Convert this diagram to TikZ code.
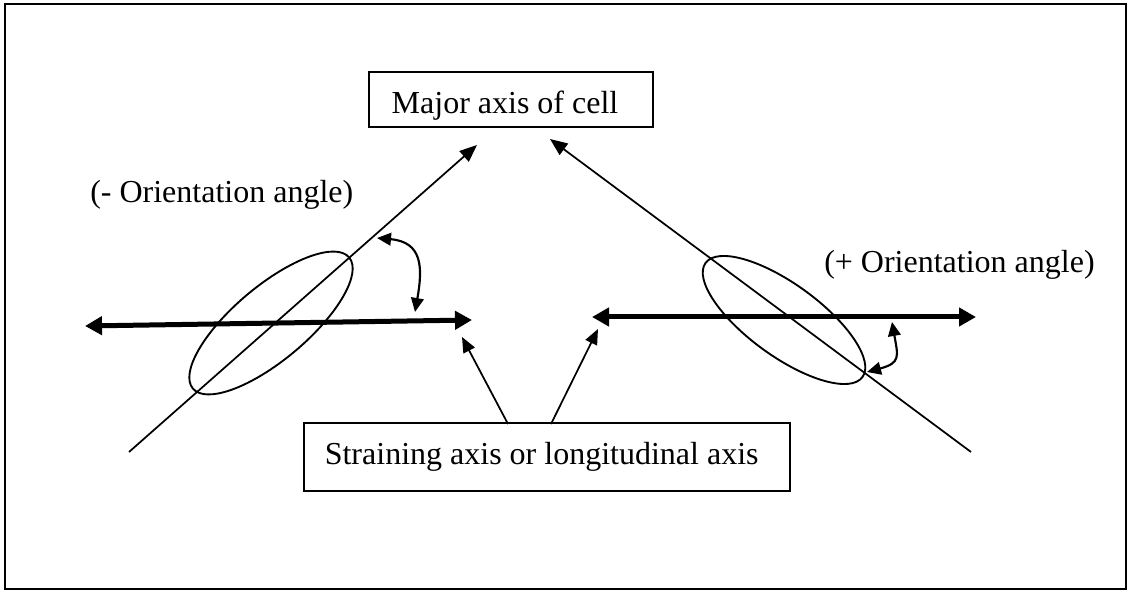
\documentclass[tikz,border=0pt]{standalone}
\usepackage{fontspec}
\setmainfont{Liberation Serif}
\usetikzlibrary{arrows.meta, positioning}

\begin{document}
\begin{tikzpicture}[
    x=0.75pt, y=0.75pt,
    every node/.style={font=\fontsize{24}{28}\selectfont},
    labelbox/.style={draw, line width=1.5pt, inner sep=0pt},
    cellaxis/.style={-{Triangle[length=13pt, width=10.5pt]}, line width=1.3pt},
    strainaxis/.style={{Triangle[length=12.75pt, width=13.5pt]}-{Triangle[length=12.75pt, width=13.5pt]}, line width=3.75pt},
    pointer/.style={-{Triangle[length=11.5pt, width=9.5pt]}, line width=1.3pt},
    anglearrow/.style={{Triangle[length=10.5pt, width=9.5pt]}-{Triangle[length=10.5pt, width=9.5pt]}, line width=1.6pt},
    cell/.style={line width=1.4pt},
    caption/.style={anchor=base west, inner sep=0pt},
]
\useasboundingbox (0,0) rectangle (1130,592);
\draw[line width=1.2pt] (5,3) rectangle (1126,588);

% text boxes
\node[labelbox, anchor=south west, minimum width=213pt, minimum height=41pt, text height=21pt, text depth=0pt] (major) at (368,464) {Major axis of cell\hspace*{9pt}};
\node[labelbox, anchor=south west, minimum width=364.5pt, minimum height=51pt] (strain) at (303,100) {Straining axis or longitudinal axis\hspace*{8pt}};
\node[caption] (negangle) at (90,389) {(- Orientation angle)};
\node[caption] (posangle) at (824,319) {(+ Orientation angle)};

% end points
\coordinate (axL_tail) at (129,140);
\coordinate (axL_tip) at (477,447);
\coordinate (axR_tail) at (971,140);
\coordinate (axR_tip) at (550,453);
\coordinate (stL_a) at (85,266);
\coordinate (stL_b) at (472,272);
\coordinate (stR_a) at (592,275);
\coordinate (stR_b) at (976,275);
\coordinate (ptL_from) at (508,168);
\coordinate (ptL_to) at (462,255);
\coordinate (ptR_from) at (551,168);
\coordinate (ptR_to) at (598,263);
\coordinate (cellL) at (271,269);
\coordinate (cellR) at (784,272);
\coordinate (angL_a) at (377,354);
\coordinate (angL_b) at (415,280);
\coordinate (angR_a) at (892,270);
\coordinate (angR_b) at (867,220);

% cells
\draw[cell, rotate around={40:(cellL)}] (cellL) ellipse [x radius=102, y radius=37];
\draw[cell, rotate around={-36:(cellR)}] (cellR) ellipse [x radius=97, y radius=36];

% axes
\draw[cellaxis] (axL_tail) -- (axL_tip);
\draw[cellaxis] (axR_tail) -- (axR_tip);
\draw[strainaxis] (stL_a) -- (stL_b);
\draw[strainaxis] (stR_a) -- (stR_b);
\draw[pointer] (ptL_from) -- (ptL_to);
\draw[pointer] (ptR_from) -- (ptR_to);

% angles
\draw[anglearrow] (angL_a) to[out=-5, in=80, looseness=1.4] (angL_b);
\draw[anglearrow] (angR_a) to[out=-80, in=15, looseness=1.6] (angR_b);
\end{tikzpicture}
\end{document}
